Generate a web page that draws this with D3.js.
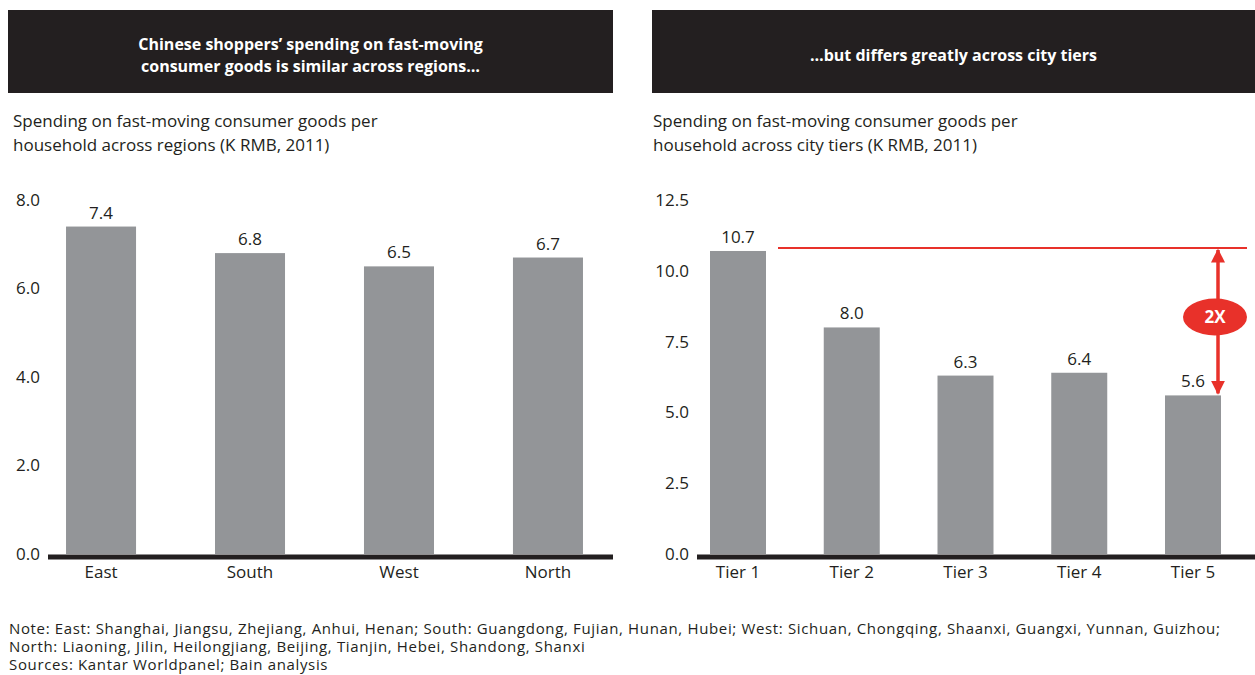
<!DOCTYPE html>
<html>
<head>
<meta charset="utf-8">
<script src="https://cdn.jsdelivr.net/npm/d3@7"></script>
<style>
  body { margin: 0; background: #fff; }
  svg text { font-family: "Open Sans", "DejaVu Sans", sans-serif; fill: #231f20; }
</style>
</head>
<body>
<script>
// data
var regions = ["East", "South", "West", "North"];
var regionValues = [7.4, 6.8, 6.5, 6.7];
var regionTicks = [0, 2, 4, 6, 8];

var tiers = ["Tier 1", "Tier 2", "Tier 3", "Tier 4", "Tier 5"];
var tierValues = [10.7, 8.0, 6.3, 6.4, 5.6];
var tierTicks = [0, 2.5, 5, 7.5, 10, 12.5];

var footnotes = [
  "Note: East: Shanghai, Jiangsu, Zhejiang, Anhui, Henan; South: Guangdong, Fujian, Hunan, Hubei; West: Sichuan, Chongqing, Shaanxi, Guangxi, Yunnan, Guizhou;",
  "North: Liaoning, Jilin, Heilongjiang, Beijing, Tianjin, Hebei, Shandong, Shanxi",
  "Sources: Kantar Worldpanel; Bain analysis"
];

var w = 1255, h = 675;
var barColor = "#939598", dark = "#231f20", red = "#e8312a";

var svg = d3.select("body").append("svg")
  .attr("width", w)
  .attr("height", h);

// header boxes
function header(x0, x1, lines) {
  svg.append("rect")
    .attr("x", x0).attr("y", 10)
    .attr("width", x1 - x0).attr("height", 83)
    .style("fill", dark);
  var cx = (x0 + x1) / 2;
  var startY = 54.5 - (lines.length - 1) * 11;
  lines.forEach(function(t, i){
    svg.append("text")
      .attr("x", cx).attr("y", startY + i * 22 + 6)
      .attr("text-anchor", "middle")
      .style("fill", "#fff")
      .style("font-weight", "bold")
      .style("font-size", "16px")
      .text(t);
  });
}
header(8, 613, ["Chinese shoppers\u2019 spending on fast-moving", "consumer goods is similar across regions\u2026"]);
header(652, 1255, ["\u2026but differs greatly across city tiers"]);

// subtitles
function subtitle(x, lines) {
  lines.forEach(function(t, i){
    svg.append("text")
      .attr("x", x).attr("y", 127 + i * 24)
      .style("font-size", "17px")
      .text(t);
  });
}
subtitle(13, ["Spending on fast-moving consumer goods per", "household across regions (K RMB, 2011)"]);
subtitle(653, ["Spending on fast-moving consumer goods per", "household across city tiers (K RMB, 2011)"]);

var baseY = 554, topY = 200;

// one panel
function panel(cats, vals, ticks, maxV, axisX0, axisX1, bandR, padIn, padOut, labelX) {
  var y = d3.scaleLinear().domain([0, maxV]).range([baseY, topY]);
  var x = d3.scaleBand().domain(cats).range(bandR).paddingInner(padIn).paddingOuter(padOut);

  var g = svg.append("g");

  g.selectAll(".bar")
    .data(vals)
    .enter()
    .append("rect")
    .attr("class", "bar")
    .attr("x", function(d, i){ return x(cats[i]); })
    .attr("y", function(d){ return y(d); })
    .attr("width", x.bandwidth())
    .attr("height", function(d){ return baseY - y(d); })
    .style("fill", barColor);

  g.selectAll(".val")
    .data(vals)
    .enter()
    .append("text")
    .attr("class", "val")
    .attr("x", function(d, i){ return x(cats[i]) + x.bandwidth() / 2; })
    .attr("y", function(d){ return y(d) - 8; })
    .attr("text-anchor", "middle")
    .style("font-size", "17px")
    .text(function(d){ return d.toFixed(1); });

  // y axis labels
  var yAxis = d3.axisLeft(y).tickValues(ticks).tickSize(0).tickPadding(0).tickFormat(d3.format(".1f"));
  var ya = g.append("g")
    .attr("transform", "translate(" + labelX + ",0)")
    .call(yAxis);
  ya.select(".domain").remove();
  ya.selectAll("text")
    .style("font-size", "17px")
    .style("font-family", "'Open Sans', 'DejaVu Sans', sans-serif")
    .style("fill", dark);

  // x axis line and labels
  g.append("line")
    .attr("x1", axisX0).attr("x2", axisX1)
    .attr("y1", baseY + 3).attr("y2", baseY + 3)
    .style("stroke", dark)
    .style("stroke-width", 5);

  g.selectAll(".cat")
    .data(cats)
    .enter()
    .append("text")
    .attr("class", "cat")
    .attr("x", function(d){ return x(d) + x.bandwidth() / 2; })
    .attr("y", baseY + 24)
    .attr("text-anchor", "middle")
    .style("font-size", "17px")
    .text(function(d){ return d; });

  return {x: x, y: y};
}

var left = panel(regions, regionValues, regionTicks, 8, 48, 613, [48, 601], 0.53, 0.121, 40);
var right = panel(tiers, tierValues, tierTicks, 12.5, 697, 1255, [697, 1234], 0.5077, 0.1143, 689);

// 2X annotation
var ry = right.y;
var lineY = ry(tierValues[0]) - 3;
var ax = 1218;
var lowY = ry(tierValues[4]) - 14;
svg.append("line")
  .attr("x1", 778).attr("x2", 1247)
  .attr("y1", lineY).attr("y2", lineY)
  .style("stroke", red).style("stroke-width", 2);

var defs = svg.append("defs");
defs.append("marker")
  .attr("id", "ah")
  .attr("viewBox", "0 0 10 10")
  .attr("refX", 9).attr("refY", 5)
  .attr("markerWidth", 4).attr("markerHeight", 4)
  .attr("orient", "auto")
  .append("path")
  .attr("d", "M0,0 L10,5 L0,10 Z")
  .style("fill", red);

var ellY = 317;
svg.append("line")
  .attr("x1", ax).attr("x2", ax)
  .attr("y1", ellY - 10).attr("y2", lineY + 2)
  .style("stroke", red).style("stroke-width", 3.5)
  .attr("marker-end", "url(#ah)");
svg.append("line")
  .attr("x1", ax).attr("x2", ax)
  .attr("y1", ellY + 10).attr("y2", lowY + 12)
  .style("stroke", red).style("stroke-width", 3.5)
  .attr("marker-end", "url(#ah)");
svg.append("ellipse")
  .attr("cx", 1215).attr("cy", ellY)
  .attr("rx", 32).attr("ry", 18.5)
  .style("fill", red);
svg.append("text")
  .attr("x", 1215).attr("y", ellY + 6)
  .attr("text-anchor", "middle")
  .style("fill", "#fff")
  .style("font-weight", "bold")
  .style("font-size", "17px")
  .text("2X");

// footnotes
footnotes.forEach(function(t, i){
  svg.append("text")
    .attr("x", 9).attr("y", 634 + i * 18)
    .style("font-size", "15px")
    .style("letter-spacing", "0.65px")
    .text(t);
});
</script>
</body>
</html>
